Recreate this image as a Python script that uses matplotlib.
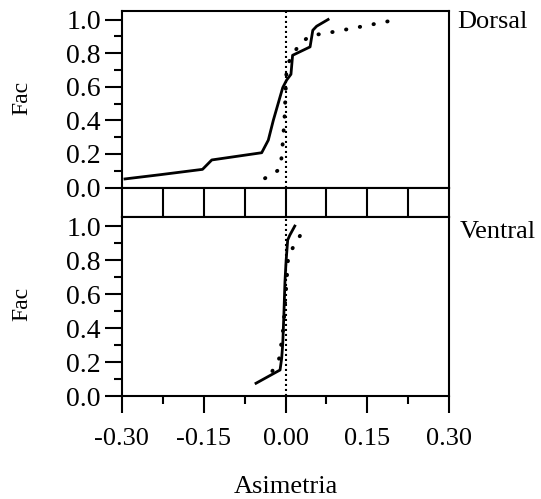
import matplotlib
matplotlib.use("Agg")
import matplotlib.pyplot as plt
from matplotlib.ticker import MultipleLocator, FormatStrFormatter

plt.rcParams['font.family'] = ['Liberation Serif', 'DejaVu Serif']
plt.rcParams['axes.unicode_minus'] = False

# Dorsal: solid curve and dotted curve
dorsal_solid_x = [-0.294, -0.23, -0.152, -0.135, -0.0436, -0.0315, -0.0223, -0.010,
                  -0.005, 0.002, 0.010, 0.013, 0.045, 0.050, 0.057, 0.078]
dorsal_solid_y = [0.051, 0.076, 0.108, 0.164, 0.207, 0.282, 0.40, 0.539,
                  0.595, 0.639, 0.674, 0.787, 0.837, 0.936, 0.96, 1.0]
dorsal_dot_x = [-0.0375, -0.011, -0.007, -0.002, 0.002, 0.0095, 0.027, 0.046,
                0.072, 0.097, 0.123, 0.149, 0.173, 0.199]
dorsal_dot_y = [0.055, 0.107, 0.182, 0.40, 0.708, 0.774, 0.858, 0.905,
                0.917, 0.932, 0.948, 0.964, 0.98, 0.996]

# Ventral: solid curve and dotted curve
ventral_solid_x = [-0.054, -0.010, -0.007, -0.005, -0.003, -0.001, 0.001, 0.004, 0.008, 0.017]
ventral_solid_y = [0.075, 0.153, 0.222, 0.31, 0.476, 0.672, 0.79, 0.918, 0.947, 1.0]
ventral_dot_x = [-0.024, -0.011, -0.004, 0.002, 0.005, 0.016, 0.031]
ventral_dot_y = [0.147, 0.225, 0.40, 0.672, 0.82, 0.888, 0.966]

strip_lines = [-0.225, -0.15, -0.075, 0.0, 0.075, 0.15, 0.225]

W, H = 541, 499


def box(l, t, r, b):
    return [l / W, 1 - b / H, (r - l) / W, (b - t) / H]


fig = plt.figure(figsize=(W / 100, H / 100), dpi=100)
ax_top = fig.add_axes(box(121.7, 10.5, 449.3, 187.5))
ax_strip = fig.add_axes(box(121.7, 187.5, 449.3, 216.7))
ax_bot = fig.add_axes(box(121.7, 216.7, 449.3, 396))

lw = 1.5

for ax in (ax_top, ax_strip, ax_bot):
    ax.set_xlim(-0.30, 0.30)
    for sp in ax.spines.values():
        sp.set_linewidth(lw)

for ax, top in ((ax_top, 1.0536), (ax_bot, 1.055)):
    ax.set_ylim(0, top)
    ax.axvline(0, color='black', lw=1.5, ls=(0, (1, 1.4)))
    ax.yaxis.set_major_locator(MultipleLocator(0.2))
    ax.yaxis.set_minor_locator(MultipleLocator(0.1))
    ax.yaxis.set_major_formatter(FormatStrFormatter('%.1f'))
    ax.tick_params(axis='y', which='major', direction='out', length=12.5, width=lw,
                   labelsize=20, pad=2.5)
    ax.tick_params(axis='y', which='minor', direction='out', length=6, width=lw)

ax_top.plot(dorsal_solid_x, dorsal_solid_y, color='black', lw=2)
ax_top.plot(dorsal_dot_x, dorsal_dot_y, color='black', lw=2.8,
            ls=(0, (0.1, 3.5)), dash_capstyle='round')
ax_top.tick_params(axis='x', which='both', bottom=False, labelbottom=False)

ax_bot.plot(ventral_solid_x, ventral_solid_y, color='black', lw=2)
ax_bot.plot(ventral_dot_x, ventral_dot_y, color='black', lw=2.8,
            ls=(0, (0.1, 3.5)), dash_capstyle='round')
ax_bot.xaxis.set_major_locator(MultipleLocator(0.15))
ax_bot.xaxis.set_minor_locator(MultipleLocator(0.075))
ax_bot.xaxis.set_major_formatter(FormatStrFormatter('%.2f'))
ax_bot.tick_params(axis='x', which='major', direction='out', length=12, width=lw,
                   labelsize=19, pad=11)
ax_bot.tick_params(axis='x', which='minor', direction='out', length=6, width=lw)

ax_strip.set_ylim(0, 1)
ax_strip.set_xticks([])
ax_strip.set_yticks([])
for xv in strip_lines:
    ax_strip.axvline(xv, color='black', lw=lw)

fig.text(285.5 / W, 1 - 486.7 / H, 'Asimetria', fontsize=19,
         ha='center', va='center')
fig.text(22 / W, 1 - 98 / H, 'Fac', fontsize=17, rotation=90, ha='center', va='center')
fig.text(22 / W, 1 - 304 / H, 'Fac', fontsize=17, rotation=90, ha='center', va='center')
fig.text(457 / W, 1 - 21.7 / H, 'Dorsal', fontsize=19, ha='left', va='center')
fig.text(460 / W, 1 - 231.7 / H, 'Ventral', fontsize=19, ha='left', va='center')

fig.savefig('out.png', dpi=100, facecolor='white')
